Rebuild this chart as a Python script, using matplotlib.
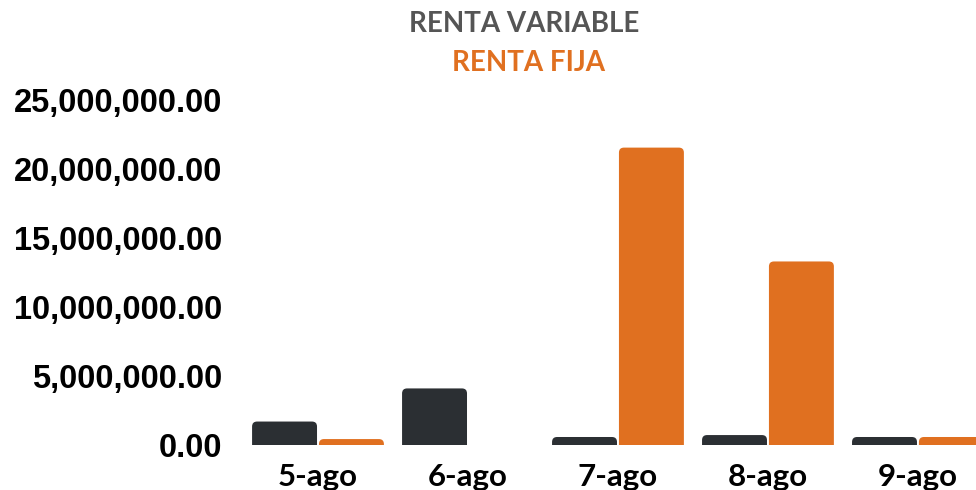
import matplotlib
matplotlib.use('Agg')
import matplotlib.pyplot as plt
from matplotlib.patches import FancyBboxPatch
from matplotlib.ticker import FuncFormatter
import numpy as np

# Data
days = ['5-ago', '6-ago', '7-ago', '8-ago', '9-ago']
renta_variable = [1_700_000, 4_100_000, 580_000, 720_000, 580_000]
renta_fija = [430_000, 0, 21_550_000, 13_300_000, 580_000]

dark = '#2b2f33'
orange = '#e07020'

fig = plt.figure(figsize=(9.76, 4.9), dpi=100)
ax = fig.add_axes([240/976, 45/490, 1 - 240/976, 345/490])

x = np.arange(len(days))
w = 0.433
off = 0.223
ax.set_xlim(-0.52, 4.387)
ax.set_ylim(0, 25_000_000)

# pixel -> data conversion for rounded corners
px_x = 1 / 150.0
px_y = 25_000_000 / 345.0
aspect = px_y / px_x
r = 5 * px_x

for vals, shift, col in [(renta_variable, -off, dark), (renta_fija, off, orange)]:
    for xi, v in zip(x, vals):
        if v <= 0:
            continue
        extra = r * aspect
        box = FancyBboxPatch((xi + shift - w / 2, -extra), w, v + extra,
                             boxstyle=f'round,pad=0,rounding_size={r}',
                             mutation_aspect=aspect,
                             facecolor=col, edgecolor='none')
        ax.add_patch(box)

ax.set_xticks(x)
ax.set_xticklabels(days, fontfamily='Lato', fontweight='bold', fontsize=22.5)
ax.set_yticks(np.arange(0, 25_000_001, 5_000_000))
ax.yaxis.set_major_formatter(FuncFormatter(lambda v, p: f'{v:,.2f}'))
for lab in ax.get_yticklabels():
    lab.set_fontfamily('Liberation Sans')
    lab.set_fontweight('bold')
    lab.set_fontsize(23.5)
ax.tick_params(axis='both', length=0)
ax.tick_params(axis='y', pad=13)
ax.tick_params(axis='x', pad=13)
for s in ax.spines.values():
    s.set_visible(False)

fig.text(524/976, 1 - 24/490, 'RENTA VARIABLE', color='#555555', fontfamily='Lato',
         fontweight='bold', fontsize=20, ha='center', va='center')
fig.text(528/976, 1 - 63/490, 'RENTA FIJA', color=orange, fontfamily='Lato',
         fontweight='bold', fontsize=20, ha='center', va='center')

fig.savefig('out.png', dpi=100)
